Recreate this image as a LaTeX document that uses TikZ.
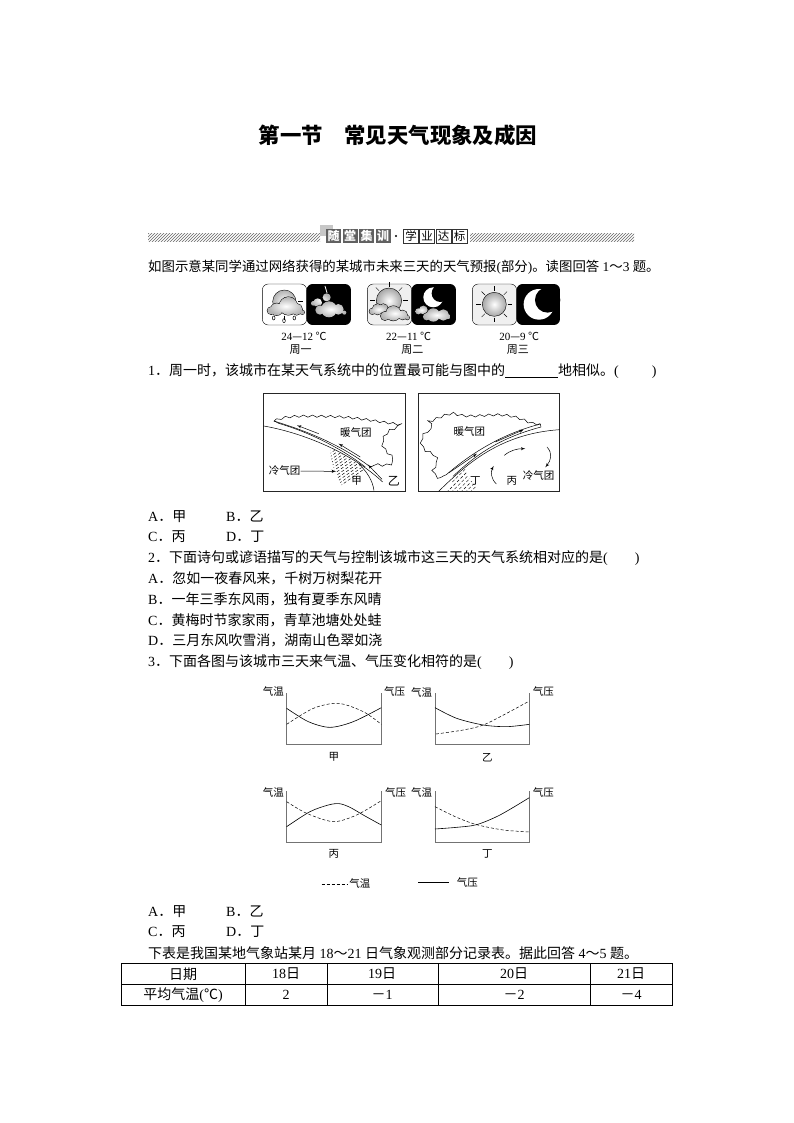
\documentclass[tikz,border=0pt]{standalone}
\usepackage{fontspec}
\setmainfont{Noto Sans CJK SC}
\newfontfamily\latfont{Liberation Serif}
\usetikzlibrary{arrows,decorations.pathmorphing,patterns}
\newcommand{\lat}[1]{{\latfont #1}}
% one sun: centre x, centre y, radius
\newcommand{\sunball}[3]{%
  \foreach \ang in {0,45,...,315}
    \draw [rayline] (#1,#2) ++(\ang:#3+4) -- ++(\ang:14);
  \shade [draw=black, line width=0.4pt, inner color=white, outer color=gray!70] (#1,#2) circle (#3);
}
% puffy cloud: outline first, then the shading over it
\newcommand{\puff}[1]{%
  \draw [draw=black, line width=1pt] #1;
  \shade [inner color=white, outer color=gray!60] #1;
}
\begin{document}
\begin{tikzpicture}[
    x=1pt, y=-1pt,
    >=latex',
    font=\fontsize{14}{16}\selectfont,
    textline/.style={
		anchor=west,
		inner sep=0pt,
		text height=11pt,
		text depth=2pt,
		yshift=-1pt
	},
	small/.style={
		inner sep=0pt,
		font=\fontsize{10.5}{12}\selectfont
	},
	cell/.style={
		inner sep=0pt
	},
	lightbox/.style={
		draw=black,
		rounded corners=6pt,
		fill=gray!12
	},
	darkbox/.style={
		fill=black,
		rounded corners=6pt
	},
	rayline/.style={
		line width=0.4pt
	},
	mapbox/.style={
		draw=black!85,
		line width=0.8pt
	},
	axisline/.style={
		draw=black!55,
		line width=0.9pt
	},
	tempcurve/.style={
		densely dashed,
		line width=0.5pt
	},
	presscurve/.style={
		line width=0.6pt
	},
	wavy/.style={
		decorate,
		decoration={snake, amplitude=1.1pt, segment length=9pt},
		line width=0.5pt
	},
	darktile/.style={
		fill=black!62,
		text=white,
		inner sep=0pt,
		minimum width=15pt,
		minimum height=13.5pt,
		font=\fontsize{12}{13}\bfseries\selectfont
	},
	whitetile/.style={
		draw=black!80,
		line width=0.4pt,
		fill=white,
		inner sep=0pt,
		minimum width=15pt,
		minimum height=13.5pt,
		font=\fontsize{11.5}{13}\selectfont
	}
  ]
  \useasboundingbox (0,0) rectangle (794,1123);

  % title and banner
  \node [inner sep=0pt, font=\fontsize{21.4}{24}\bfseries\selectfont] (title) at (398,135) {第一节　常见天气现象及成因};

  \fill [pattern=north east lines, pattern color=black!60] (148,234) rectangle (320,241);
  \fill [pattern=north east lines, pattern color=black!60] (470,234) rectangle (634,241);
  \fill [black!22] (320,225) rectangle (333,236);
  \foreach \txt/\nx [count=\i] in {随/333.5,堂/350,集/366.5,训/383}
    \node [darktile] (dark\i) at (\nx,236) {\txt};
  \fill (396,236) circle (1.1);
  \foreach \txt/\nx [count=\i] in {学/411,业/427,达/443.5,标/459.5}
    \node [whitetile] (white\i) at (\nx,236) {\txt};

  \node [textline, font=\fontsize{13.4}{16}\selectfont] (intro) at (148,266) {如图示意某同学通过网络获得的某城市未来三天的天气预报\lat{(}部分\lat{)}。读图回答\lat{ 1}～\lat{3 }题。};

  % weather icons, coordinates read at three times size
  \begin{scope}[shift={(255,280)}, x=0.3333pt, y=-0.3333pt]
    % monday
    \draw [lightbox, fill=white] (22,12) rectangle (155,135);
    \fill [darkbox] (155,12) rectangle (288,135);
    \foreach \ang in {90,135,45,0}
      \draw [rayline] (88,65) ++(\ang:42) -- ++(\ang:14);
    \shade [draw=black, line width=0.4pt, inner color=white, outer color=gray!60] (88,65) circle (35);
    \puff{(100,78) circle (27) (65,88) circle (18) (125,88) circle (17) (142,97) circle (6) (48,92) circle (11)}
    \foreach \nx/\ny in {56/114, 87/122, 118/114}
      \draw [line width=0.5pt] (\nx,\ny) circle [x radius=4, y radius=6];
    \draw [white, line width=0.8pt] (210,18) -- (220,52);
    \puff{(188,68) circle (13) (215,52) circle (12) (175,70) circle (7)}
    \puff{(222,88) circle (24) (195,90) circle (14) (250,88) circle (16) (268,98) circle (6)}
    % tuesday
    \draw [lightbox] (337,12) rectangle (470,135);
    \fill [darkbox] (470,12) rectangle (603,135);
    \sunball{402}{62}{38}
    \puff{(368,88) circle (16) (385,86) circle (14) (352,94) circle (9)}
    \puff{(415,100) circle (22) (390,108) circle (13) (443,105) circle (14) (457,113) circle (6)}
    \fill [white] (535,52) circle (30);
    \fill [black] (556,40) circle (26);
    \puff{(505,90) circle (13) (490,94) circle (9)}
    \puff{(535,105) circle (20) (515,110) circle (11) (565,105) circle (17) (580,110) circle (7)}
    % wednesday
    \draw [lightbox] (652,12) rectangle (785,135);
    \fill [darkbox] (785,12) rectangle (915,135);
    \sunball{718}{73}{36}
    \fill [white] (852,73) circle (46);
    \fill [black] (878,60) circle (38);
    \node [small, font=\fontsize{11}{12}\selectfont] (temp1) at (147,168) {\lat{24}—\lat{12} ℃};
    \node [small, font=\fontsize{11}{12}\selectfont] (temp2) at (461,168) {\lat{22}—\lat{11} ℃};
    \node [small, font=\fontsize{11}{12}\selectfont] (temp3) at (793,168) {\lat{20}—\lat{9} ℃};
    \node [small, font=\fontsize{11}{12}\selectfont] (day1) at (137,210) {周一};
    \node [small, font=\fontsize{11}{12}\selectfont] (day2) at (472,210) {周二};
    \node [small, font=\fontsize{11}{12}\selectfont] (day3) at (789,210) {周三};
  \end{scope}

  \node [textline] (q1) at (148,370) {\lat{1}．周一时，该城市在某天气系统中的位置最可能与图中的\underline{\hspace{53pt}}地相似。\lat{(}\hspace{33pt}\lat{)}};

  % first map
  \begin{scope}[shift={(262,392)}, x=0.3333pt, y=-0.3333pt]
    \draw [mapbox] (4,4) rectangle (430,298);
    \begin{scope}
      \clip (205,170) .. controls (270,195) and (325,235) .. (337,296) -- (250,296) .. controls (225,260) and (205,215) .. cycle;
      \foreach \off in {0,14,...,210}
        \draw [densely dashed, line width=0.45pt] (190+\off,165) -- ++(-170,120);
    \end{scope}
    \draw [line width=0.5pt] (5,102) .. controls (110,120) and (260,175) .. (362,270);
    \draw [line width=0.5pt] (290,215) .. controls (315,240) and (332,265) .. (336,296);
    \draw [line width=0.5pt] (35,87) .. controls (130,115) and (240,160) .. (325,225);
    \draw [line width=0.5pt] (37,87) -- (50,94) .. controls (140,120) and (240,170) .. (310,225);
    \draw [wavy] (37,87) .. controls (70,72) and (120,75) .. (200,76) .. controls (280,78) and (340,92) .. (408,100) .. controls (415,115) and (395,120) .. (375,128) .. controls (360,140) and (350,160) .. (355,170) .. controls (360,195) and (395,205) .. (385,218) .. controls (378,232) and (350,230) .. (322,225);
    \draw [->, line width=0.5pt] (170,125) -- (105,100);
    \draw [->, line width=0.5pt] (295,195) -- (230,155);
    \draw [->, line width=0.5pt] (360,262) -- (318,218);
    \node [small] (warm1) at (282,122) {暖气团};
    \node [small] (cold1) at (68,237) {冷气团};
    \coordinate (hatchedge) at (222,238);
    \draw [->, line width=0.5pt] (cold1) -- (hatchedge);
    \node [small] (jia) at (284,266) {甲};
    \node [small, font=\fontsize{12}{14}\selectfont] (yi) at (396,268) {乙};
  \end{scope}

  % second map
  \begin{scope}[shift={(417,392)}, x=0.3333pt, y=-0.3333pt]
    \draw [mapbox] (5,4) rectangle (428,298);
    \begin{scope}
      \clip (105,270) -- (145,228) .. controls (155,250) and (165,280) .. (188,297) -- (92,297) -- cycle;
      \foreach \off in {0,14,...,210}
        \draw [densely dashed, line width=0.45pt] (50+\off,200) -- ++(-100,100);
    \end{scope}
    \draw [line width=0.5pt] (65,298) .. controls (150,215) and (250,125) .. (428,113);
    \draw [line width=0.5pt] (108,253) .. controls (170,195) and (240,140) .. (372,105);
    \draw [line width=0.5pt] (88,248) .. controls (150,195) and (240,130) .. (370,96) -- (372,105);
    \draw [wavy] (368,95) .. controls (340,98) and (325,70) .. (250,68) .. controls (200,68) and (160,78) .. (120,65) .. controls (90,65) and (60,85) .. (40,90) .. controls (35,100) and (55,110) .. (45,115) .. controls (25,118) and (5,140) .. (20,170) .. controls (30,185) and (60,180) .. (62,210) .. controls (62,225) and (35,235) .. (60,255) .. controls (68,258) and (80,250) .. (88,248);
    \draw [->, line width=0.5pt] (95,243) -- (180,185);
    \draw [->, line width=0.5pt] (235,150) -- (320,113);
    \draw [->, line width=0.5pt] (262,190) .. controls (280,175) and (300,170) .. (325,170);
    \draw [->, line width=0.5pt] (390,165) .. controls (408,185) and (402,205) .. (385,226);
    \draw [->, line width=0.5pt] (238,276) .. controls (222,260) and (220,240) .. (230,222);
    \node [small] (warm2) at (157,120) {暖气团};
    \node [small] (ding1) at (175,268) {丁};
    \node [small] (bing1) at (285,268) {丙};
    \node [small] (cold2) at (365,252) {冷气团};
  \end{scope}

  \node [textline] (opta1) at (148,516) {\lat{A}．甲};
  \node [textline] (optb1) at (226,516) {\lat{B}．乙};
  \node [textline] (optc1) at (148,536) {\lat{C}．丙};
  \node [textline] (optd1) at (226,536) {\lat{D}．丁};
  \node [textline] (q2) at (148,557) {\lat{2}．下面诗句或谚语描写的天气与控制该城市这三天的天气系统相对应的是\lat{(}\hspace{27pt}\lat{)}};
  \node [textline] (opta2) at (148,578) {\lat{A}．忽如一夜春风来，千树万树梨花开};
  \node [textline] (optb2) at (148,599) {\lat{B}．一年三季东风雨，独有夏季东风晴};
  \node [textline] (optc2) at (148,620) {\lat{C}．黄梅时节家家雨，青草池塘处处蛙};
  \node [textline] (optd2) at (148,640) {\lat{D}．三月东风吹雪消，湖南山色翠如浇};
  \node [textline] (q3) at (148,661) {\lat{3}．下面各图与该城市三天来气温、气压变化相符的是\lat{(}\hspace{27pt}\lat{)}};

  % four small charts
  \begin{scope}[shift={(250,680)}, x=0.3333pt, y=-0.3333pt]
    \foreach \lx/\by in {110/192, 555/192, 110/486, 555/486}
      \draw [axisline] (\lx,\by-152) -- (\lx,\by) -- (\lx+284,\by) -- (\lx+284,\by-152);
    \draw [presscurve] plot [smooth] coordinates {(110,85) (175,125) (240,142) (310,125) (394,83)};
    \draw [tempcurve] plot [smooth] coordinates {(110,133) (190,85) (265,70) (340,95) (394,133)};
    \draw [presscurve] plot [smooth] coordinates {(555,83) (620,115) (700,135) (770,140) (838,133)};
    \draw [tempcurve] plot [smooth] coordinates {(558,162) (640,150) (700,135) (770,100) (838,63)};
    \draw [presscurve] plot [smooth] coordinates {(110,440) (180,395) (235,375) (268,371) (300,382) (345,408) (394,435)};
    \draw [tempcurve] plot [smooth] coordinates {(110,365) (170,400) (250,425) (320,405) (394,362)};
    \draw [presscurve] plot [smooth] coordinates {(555,447) (620,442) (680,434) (750,405) (838,353)};
    \draw [tempcurve] plot [smooth] coordinates {(555,380) (620,412) (680,434) (760,450) (838,456)};
    \node [small] (temp4) at (70,35) {气温};
    \node [small] (press4) at (434,33) {气压};
    \node [small] (temp5) at (515,37) {气温};
    \node [small] (press5) at (880,35) {气压};
    \node [small] (temp6) at (70,338) {气温};
    \node [small] (press6) at (437,338) {气压};
    \node [small] (temp7) at (515,338) {气温};
    \node [small] (press7) at (880,338) {气压};
    \node [small] (jia2) at (252,232) {甲};
    \node [small] (yi2) at (712,234) {乙};
    \node [small] (bing2) at (252,522) {丙};
    \node [small] (ding2) at (712,522) {丁};
    \node [small] (legtemp) at (330,612) {气温};
    \node [small] (legpress) at (652,608) {气压};
    \coordinate (legtempstart) at (215,612);
    \coordinate (legpressend) at (597,608);
    \draw [tempcurve, shorten >=2pt] (legtempstart) -- (legtemp);
    \draw [presscurve] (505,608) -- (legpressend);
  \end{scope}

  \node [textline] (opta3) at (148,911) {\lat{A}．甲};
  \node [textline] (optb3) at (226,911) {\lat{B}．乙};
  \node [textline] (optc3) at (148,931) {\lat{C}．丙};
  \node [textline] (optd3) at (226,931) {\lat{D}．丁};
  \node [textline] (intro2) at (148,953) {下表是我国某地气象站某月\lat{ 18}～\lat{21 }日气象观测部分记录表。据此回答\lat{ 4}～\lat{5 }题。};

  % table
  \draw [line width=0.7pt] (121,963) rectangle (672,1005);
  \draw [line width=0.7pt] (121,984) -- (672,984);
  \foreach \colx in {245,327,438,590}
    \draw [line width=0.7pt] (\colx,963) -- (\colx,1005);
  \node [cell] (head0) at (183,974) {日期};
  \node [cell] (head1) at (286,974) {\lat{18}日};
  \node [cell] (head2) at (382,974) {\lat{19}日};
  \node [cell] (head3) at (514,974) {\lat{20}日};
  \node [cell] (head4) at (631,974) {\lat{21}日};
  \node [cell] (row0) at (183,995) {平均气温\lat{(}℃\lat{)}};
  \node [cell] (row1) at (286,995) {\lat{2}};
  \node [cell] (row2) at (382,995) {－\lat{1}};
  \node [cell] (row3) at (514,995) {－\lat{2}};
  \node [cell] (row4) at (631,995) {－\lat{4}};
\end{tikzpicture}
\end{document}
